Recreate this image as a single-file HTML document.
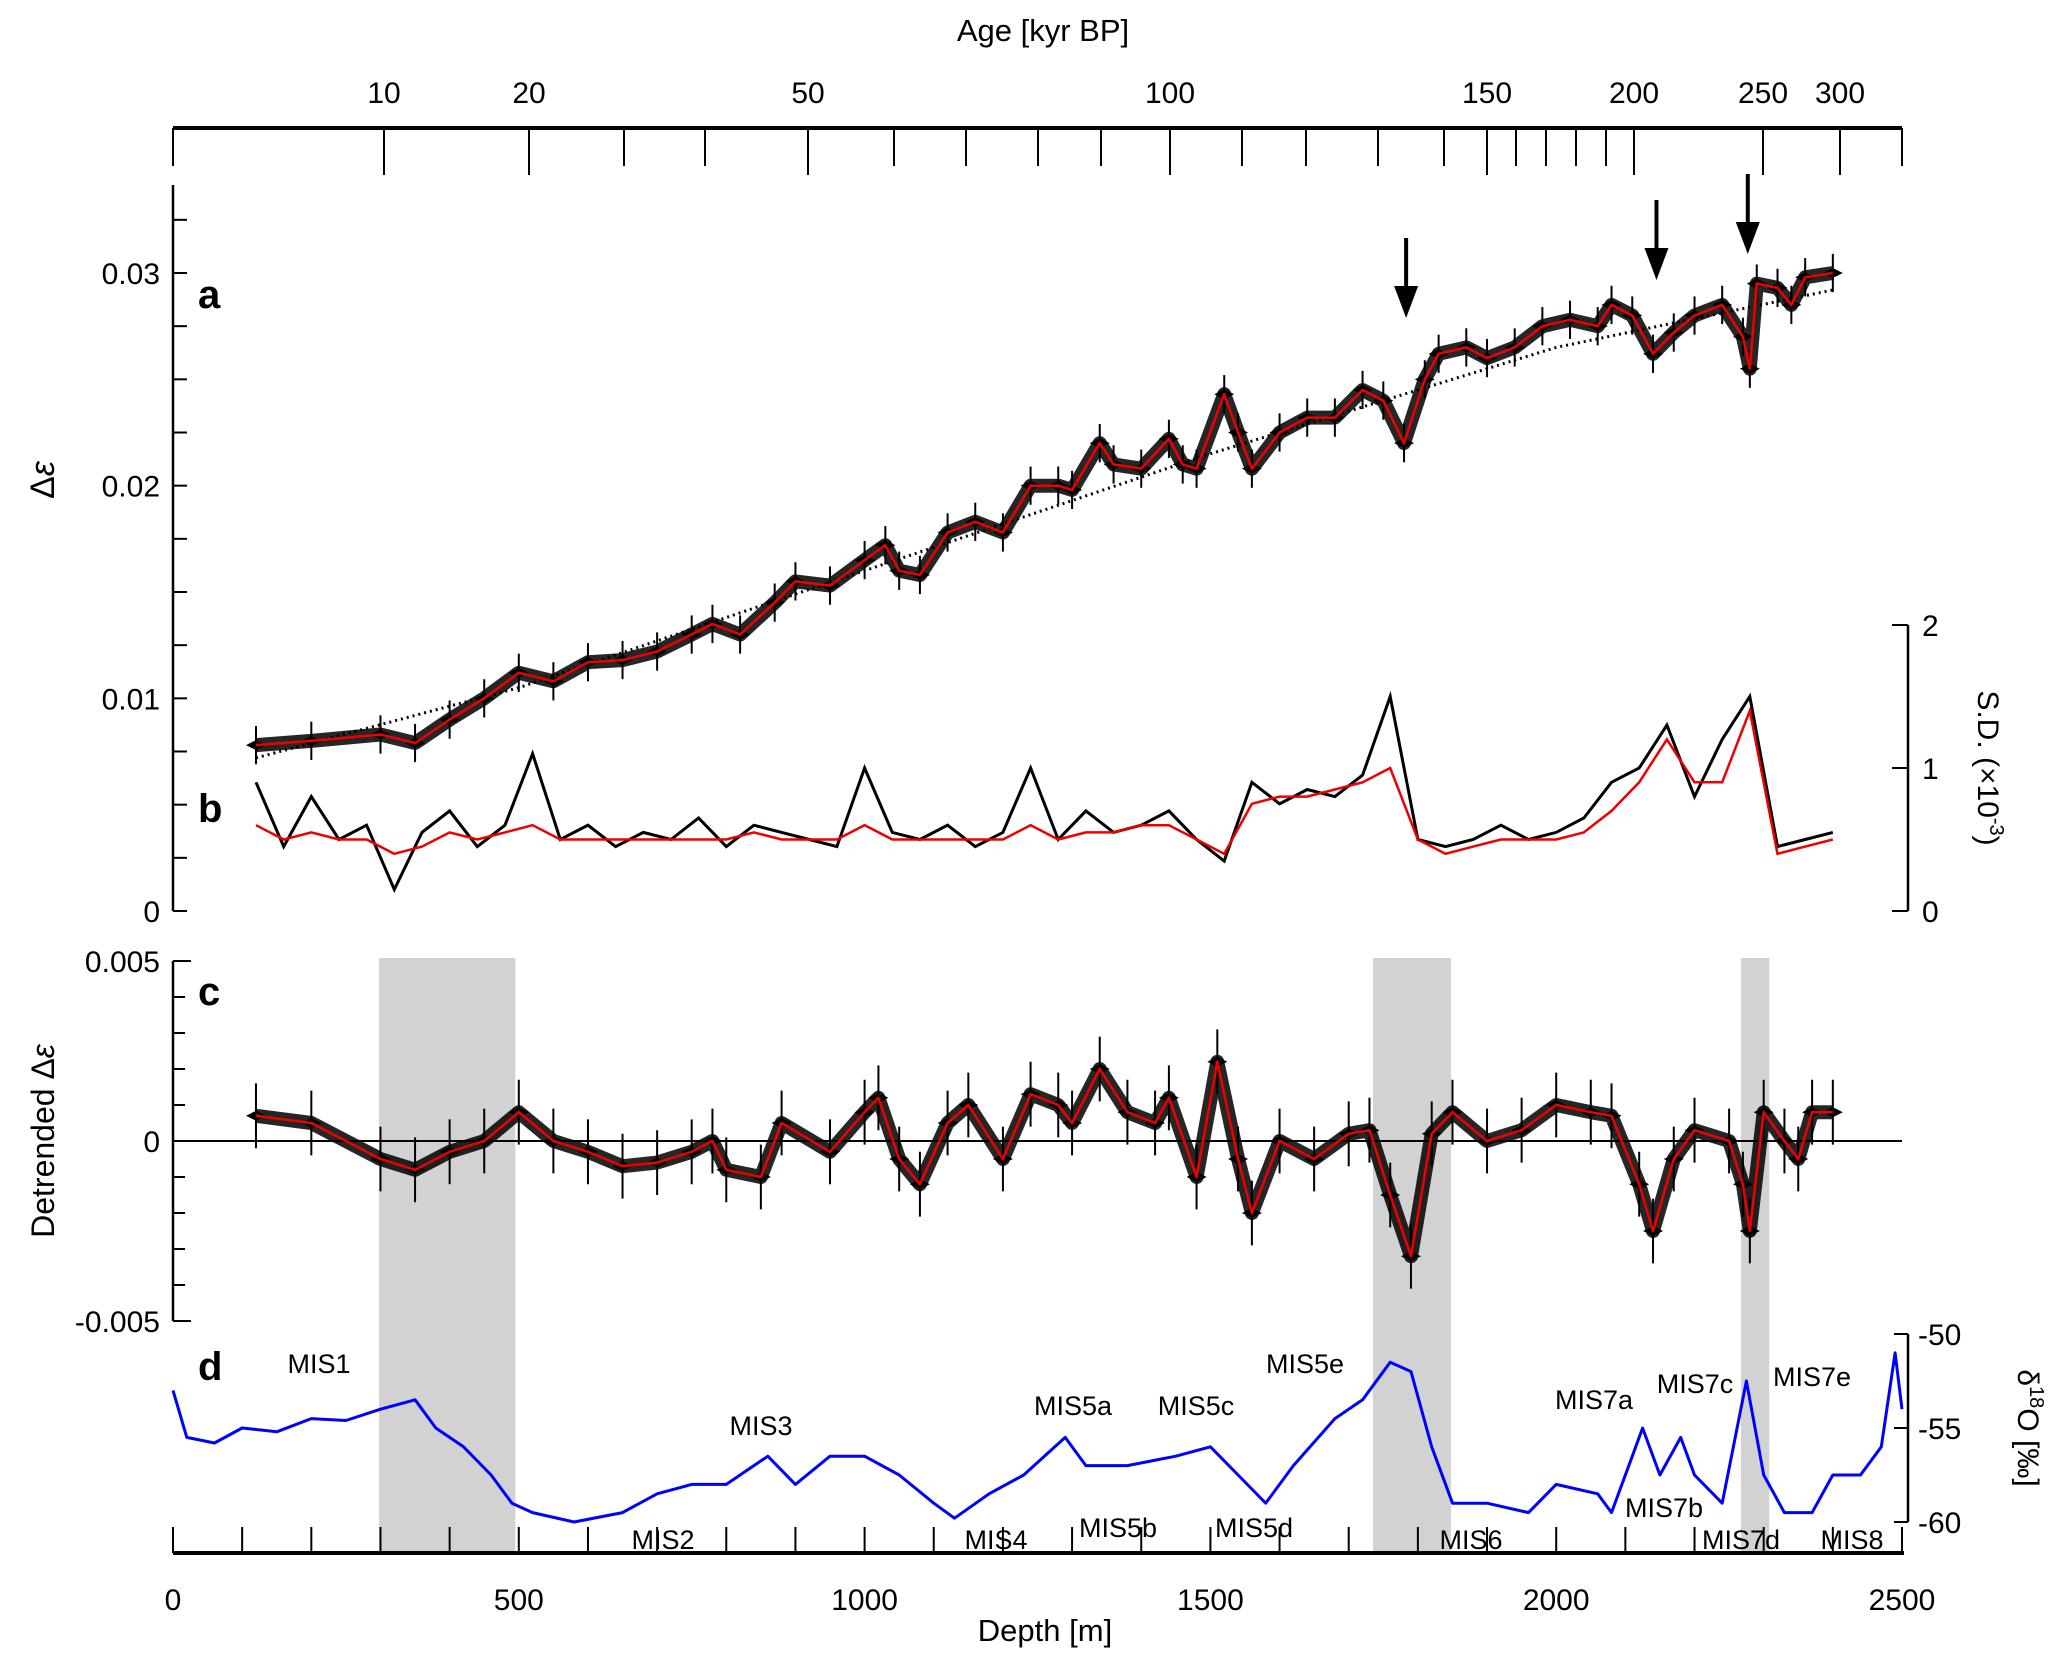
<!DOCTYPE html>
<html><head><meta charset="utf-8"><style>
html,body{margin:0;padding:0;background:#fff;}
svg{display:block;font-family:"Liberation Sans",Arial,sans-serif;}
</style></head><body>
<svg id="fig" width="2067" height="1668" viewBox="0 0 2067 1668" xmlns="http://www.w3.org/2000/svg">
<g id="shade"></g>
<g id="axes"></g>
<g id="plots"></g>
<g id="labels">
  <text x="1043" y="41" font-size="31" text-anchor="middle">Age [kyr BP]</text>
  <text x="1045" y="1641" font-size="31" text-anchor="middle">Depth [m]</text>
  <text transform="translate(54,480) rotate(-90)" font-size="34" text-anchor="middle">Δ<tspan font-style="italic">ε</tspan></text>
  <text transform="translate(54,1141) rotate(-90)" font-size="32" text-anchor="middle">Detrended Δ<tspan font-style="italic">ε</tspan></text>
  <text transform="translate(1978,768) rotate(90)" font-size="30" text-anchor="middle">S.D. (×10<tspan dy="-12" font-size="20">-3</tspan><tspan dy="12">)</tspan></text>
  <text transform="translate(2018,1428) rotate(90)" font-size="30" text-anchor="middle">δ<tspan dy="-12" font-size="20">18</tspan><tspan dy="12">O [‰]</tspan></text>
  <text x="198" y="308" font-size="40" font-weight="bold">a</text>
  <text x="198" y="822" font-size="40" font-weight="bold">b</text>
  <text x="198" y="1005" font-size="40" font-weight="bold">c</text>
  <text x="198" y="1380" font-size="40" font-weight="bold">d</text>
</g>
</svg>
<script>
// ---------- data ----------
const depthA = [120,200,300,350,400,450,500,550,600,650,700,750,780,820,870,900,950,1000,1030,1050,1080,1120,1160,1200,1240,1280,1300,1340,1360,1400,1440,1460,1480,1520,1540,1560,1600,1640,1680,1720,1750,1780,1810,1830,1870,1900,1940,1980,2020,2060,2080,2110,2140,2170,2200,2240,2270,2280,2290,2320,2340,2360,2400];
const valA = [0.0078,0.0080,0.0083,0.0079,0.0090,0.0100,0.0112,0.0108,0.0117,0.0118,0.0122,0.0130,0.0135,0.0130,0.0145,0.0155,0.0153,0.0165,0.0172,0.0160,0.0158,0.0178,0.0183,0.0178,0.0200,0.0200,0.0198,0.0220,0.0210,0.0208,0.0222,0.0210,0.0208,0.0243,0.0225,0.0208,0.0225,0.0232,0.0232,0.0245,0.0240,0.0220,0.0250,0.0262,0.0265,0.0260,0.0265,0.0275,0.0278,0.0275,0.0285,0.0280,0.0262,0.0272,0.0280,0.0285,0.0270,0.0255,0.0295,0.0293,0.0285,0.0298,0.0300];
const depthTrend = [120,500,1000,1500,2000,2400];
const valTrend = [0.0072,0.0105,0.0160,0.0215,0.0265,0.0292];
const depthB = [120,160,200,240,280,320,360,400,440,480,520,560,600,640,680,720,760,800,840,880,920,960,1000,1040,1080,1120,1160,1200,1240,1280,1320,1360,1400,1440,1480,1520,1560,1600,1640,1680,1720,1760,1800,1840,1880,1920,1960,2000,2040,2080,2120,2160,2200,2240,2280,2320,2360,2400];
const sdRaw = [0.9,0.45,0.8,0.5,0.6,0.15,0.55,0.7,0.45,0.6,1.1,0.5,0.6,0.45,0.55,0.5,0.65,0.45,0.6,0.55,0.5,0.45,1.0,0.55,0.5,0.6,0.45,0.55,1.0,0.5,0.7,0.55,0.6,0.7,0.5,0.35,0.9,0.75,0.85,0.8,0.95,1.5,0.5,0.45,0.5,0.6,0.5,0.55,0.65,0.9,1.0,1.3,0.8,1.2,1.5,0.45,0.5,0.55];
const sdSmooth = [0.6,0.5,0.55,0.5,0.5,0.4,0.45,0.55,0.5,0.55,0.6,0.5,0.5,0.5,0.5,0.5,0.5,0.5,0.55,0.5,0.5,0.5,0.6,0.5,0.5,0.5,0.5,0.5,0.6,0.5,0.55,0.55,0.6,0.6,0.5,0.4,0.75,0.8,0.8,0.85,0.9,1.0,0.5,0.4,0.45,0.5,0.5,0.5,0.55,0.7,0.9,1.2,0.9,0.9,1.4,0.4,0.45,0.5];
const depthC = [120,200,300,350,400,450,500,550,600,650,700,750,780,800,850,880,950,1000,1020,1050,1080,1120,1150,1200,1240,1280,1300,1340,1380,1420,1440,1480,1510,1540,1560,1600,1650,1700,1730,1760,1790,1820,1850,1900,1950,2000,2050,2080,2120,2140,2170,2200,2250,2270,2280,2300,2330,2350,2370,2400];
const valC = [0.0007,0.0005,-0.0005,-0.0008,-0.0003,0.0,0.0008,0.0,-0.0003,-0.0007,-0.0006,-0.0003,0.0,-0.0008,-0.0010,0.0005,-0.0003,0.0008,0.0012,-0.0005,-0.0012,0.0005,0.0010,-0.0005,0.0013,0.0010,0.0005,0.0020,0.0008,0.0005,0.0012,-0.0010,0.0022,-0.0005,-0.0020,0.0,-0.0005,0.0002,0.0003,-0.0015,-0.0032,0.0002,0.0008,0.0,0.0003,0.0010,0.0008,0.0007,-0.0012,-0.0025,-0.0005,0.0003,0.0,-0.0012,-0.0025,0.0008,0.0,-0.0005,0.0008,0.0008];
const depthD = [0,20,60,100,150,200,250,300,350,380,420,460,490,520,580,650,700,750,800,860,900,950,1000,1050,1100,1130,1180,1230,1290,1320,1380,1450,1500,1540,1580,1620,1680,1720,1760,1790,1820,1850,1900,1960,2000,2060,2080,2110,2125,2150,2180,2200,2240,2275,2300,2330,2370,2400,2440,2470,2490,2500];
const valD = [-53,-55.5,-55.8,-55,-55.2,-54.5,-54.6,-54,-53.5,-55,-56,-57.5,-59,-59.5,-60,-59.5,-58.5,-58,-58,-56.5,-58,-56.5,-56.5,-57.5,-59,-59.8,-58.5,-57.5,-55.5,-57,-57,-56.5,-56,-57.5,-59,-57,-54.5,-53.5,-51.5,-52,-56,-59,-59,-59.5,-58,-58.5,-59.5,-56.5,-55,-57.5,-55.5,-57.5,-59,-52.5,-57.5,-59.5,-59.5,-57.5,-57.5,-56,-51,-54];
const shadeStart = [298,1735,2267];
const shadeEnd = [495,1848,2308];
const depthTicks = [0,500,1000,1500,2000,2500];
const ageLabels = ["10","20","50","100","150","200","250","300"];
const ageLabelX = [384,529,808,1170,1487,1634,1763,1840];
const ageMinorX = [624,705,894,966,1038,1101,1242,1306,1378,1444,1516,1546,1576,1606];
const arrowDepths = [1783,2145,2277];
const arrowTop = [238,200,174];

// ---------- scales ----------
const X0=173, X1=1902;
const xs = d => X0 + (d/2500)*(X1-X0);
const ya = v => 911 - (v/0.03)*(911-273);
const yb = v => 911 - (v/2)*(911-625);
const yc = v => 1141 - (v/0.005)*(1141-961);
const yd = v => 1334 + ((-50 - v)/10)*(1522-1334);
const NS="http://www.w3.org/2000/svg";
function mk(tag, attrs, parent){const e=document.createElementNS(NS,tag);for(const k in attrs)e.setAttribute(k,attrs[k]);parent.appendChild(e);return e;}
const axes=document.getElementById('axes'), plots=document.getElementById('plots'), shade=document.getElementById('shade'), labels=document.getElementById('labels');
const FS=30;

// shading
for(let i=0;i<shadeStart.length;i++){
  const r=mk('rect',{x:xs(shadeStart[i]),y:958,width:xs(shadeEnd[i])-xs(shadeStart[i]),height:1553-958,fill:'#d2d2d2'},shade);
  
  
}

// top age axis
let e=mk('line',{x1:X0,y1:128,x2:X1,y2:128,stroke:'#000','stroke-width':4},axes);


[X0,X1].concat(ageMinorX).forEach(x=>{
  const t=mk('line',{x1:x,y1:128,x2:x,y2:166,stroke:'#000','stroke-width':2},axes);
  
  
});
ageLabels.forEach((lab,i)=>{
  const x=ageLabelX[i];
  const t=mk('line',{x1:x,y1:128,x2:x,y2:175,stroke:'#000','stroke-width':2},axes);
  
  
  const tx=mk('text',{x:x,y:103,'font-size':FS,'text-anchor':'middle'},axes);
  tx.textContent=lab;
  
  
});

// bottom depth axis
e=mk('line',{x1:X0,y1:1553,x2:X1+2,y2:1553,stroke:'#000','stroke-width':4},axes);


for(let d=0; d<=2500; d+=100){
  const t=mk('line',{x1:xs(d),y1:1553,x2:xs(d),y2:1527,stroke:'#000','stroke-width':2},axes);
  
  
}
depthTicks.forEach(d=>{
  const tx=mk('text',{x:xs(d),y:1610,'font-size':FS,'text-anchor':'middle'},axes);
  tx.textContent=String(d);
  
  
});

// left axis a
e=mk('line',{x1:X0,y1:185,x2:X0,y2:911,stroke:'#000','stroke-width':2.5},axes);


for(let v=0; v<=0.0326; v+=0.0025){
  const t=mk('line',{x1:X0,y1:ya(v),x2:X0+14,y2:ya(v),stroke:'#000','stroke-width':2},axes);
  
  
}
[["0",0],["0.01",0.01],["0.02",0.02],["0.03",0.03]].forEach(p=>{
  const tx=mk('text',{x:160,y:ya(p[1])+11,'font-size':FS,'text-anchor':'end'},axes);
  tx.textContent=p[0];
  
  
});
// right axis b
e=mk('line',{x1:1908,y1:625,x2:1908,y2:911,stroke:'#000','stroke-width':2.5},axes);


[0,1,2].forEach(v=>{
  const t=mk('line',{x1:1908,y1:yb(v),x2:1892,y2:yb(v),stroke:'#000','stroke-width':2},axes);
  
  
  const tx=mk('text',{x:1922,y:yb(v)+11,'font-size':FS},axes);
  tx.textContent=String(v);
  
  
});
// left axis c
e=mk('line',{x1:X0,y1:961,x2:X0,y2:1321,stroke:'#000','stroke-width':2.5},axes);


for(let k=-5;k<=5;k++){
  const v=k*0.001;
  const t=mk('line',{x1:X0,y1:yc(v),x2:X0+(k%5===0?18:12),y2:yc(v),stroke:'#000','stroke-width':2},axes);
  
  
}
[["0.005",0.005],["0",0],["-0.005",-0.005]].forEach(p=>{
  const tx=mk('text',{x:160,y:yc(p[1])+11,'font-size':FS,'text-anchor':'end'},axes);
  tx.textContent=p[0];
  
  
});
e=mk('line',{x1:X0,y1:yc(0),x2:X1,y2:yc(0),stroke:'#000','stroke-width':2},axes);


// right axis d
e=mk('line',{x1:1908,y1:1334,x2:1908,y2:1522,stroke:'#000','stroke-width':2.5},axes);


[-50,-55,-60].forEach(v=>{
  const t=mk('line',{x1:1908,y1:yd(v),x2:1894,y2:yd(v),stroke:'#000','stroke-width':2},axes);
  
  
  const tx=mk('text',{x:1918,y:yd(v)+11,'font-size':FS},axes);
  tx.textContent=String(v);
  
  
});

// ---------- series ----------
function pts(ds,vs,yf){return ds.map((d,i)=>xs(d).toFixed(1)+','+yf(vs[i]).toFixed(1)).join(' ');}
function errSeries(ds,vs,yf,name){
  const band=mk('polyline',{points:pts(ds,vs,yf),fill:'none',stroke:'#000','stroke-width':14,'stroke-linejoin':'round','stroke-opacity':0.85},plots);
  
  
  ds.forEach((d,i)=>{
    const x=xs(d), y=yf(vs[i]);
    const eb=mk('line',{x1:x,y1:yf(vs[i]+0.0009),x2:x,y2:yf(vs[i]-0.0009),stroke:'#000','stroke-width':2},plots);
    
    
    const m=mk('path',{d:`M${x-10},${y} L${x},${y-5} L${x+10},${y} L${x},${y+5}Z`,fill:'#000'},plots);
    
    
  });
  const red=mk('polyline',{points:pts(ds,vs,yf),fill:'none',stroke:'#e00','stroke-width':2.5,'stroke-linejoin':'round'},plots);
  
  
}
// trend (a)
e=mk('polyline',{points:pts(depthTrend,valTrend,ya),fill:'none',stroke:'#000','stroke-width':3,'stroke-dasharray':'2,4'},plots);


errSeries(depthA,valA,ya,'delta-epsilon');
// b
e=mk('polyline',{points:pts(depthB,sdRaw,yb),fill:'none',stroke:'#000','stroke-width':3},plots);


e=mk('polyline',{points:pts(depthB,sdSmooth,yb),fill:'none',stroke:'#e00','stroke-width':2.5},plots);


// c
errSeries(depthC,valC,yc,'detrended');
// d
e=mk('polyline',{points:pts(depthD,valD,yd),fill:'none',stroke:'#00f','stroke-width':3,'stroke-linejoin':'round'},plots);



// arrows
arrowDepths.forEach((d,i)=>{
  const x=xs(d), top=arrowTop[i];
  const l=mk('line',{x1:x,y1:top,x2:x,y2:top+52,stroke:'#000','stroke-width':4},plots);
  
  
  const h=mk('path',{d:`M${x-12},${top+48} L${x+12},${top+48} L${x},${top+80}Z`,fill:'#000'},plots);
  
  
});

// MIS labels
const misText=["MIS1","MIS2","MIS3","MIS4","MIS5a","MIS5b","MIS5c","MIS5d","MIS5e","MIS6","MIS7a","MIS7b","MIS7c","MIS7d","MIS7e","MIS8"];
const misX=[319,663,761,996,1073,1118,1196,1254,1305,1471,1594,1664,1695,1741,1812,1852];
const misY=[1373,1549,1435,1549,1415,1537,1415,1537,1373,1549,1409,1517,1393,1549,1386,1549];
misText.forEach((t,i)=>{
  const tx=mk('text',{x:misX[i],y:misY[i],'font-size':27,'text-anchor':'middle'},labels);
  tx.textContent=t;
  
  
});
</script>
</body></html>
